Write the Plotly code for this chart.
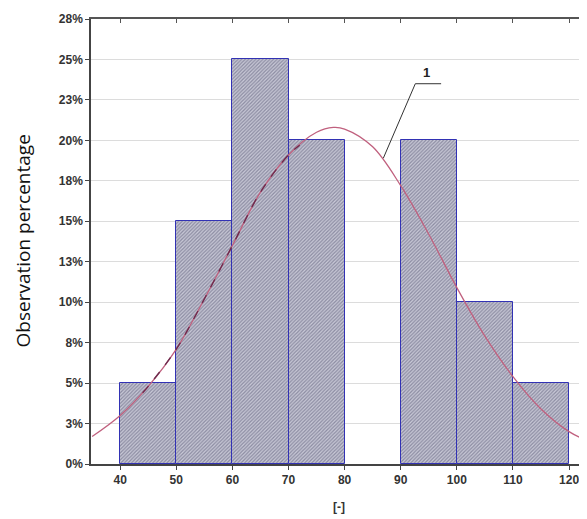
import plotly.graph_objects as go

# Histogram bins (left edges) and observation percentages
bin_left = [40, 50, 60, 70, 80, 90, 100, 110]
bin_width = 10
obs_pct = [5, 15, 25, 20, 0, 20, 10, 5]

# Fitted curve
curve_x = [35, 40, 45, 50, 55, 60, 65, 70, 75, 78, 80, 85, 90, 95, 100, 105, 110, 115, 120, 123.5]
curve_y = [1.7, 3.0, 4.8, 7.1, 10.2, 13.5, 16.8, 19.1, 20.5, 20.8, 20.7, 19.6, 17.2, 14.2, 10.9, 7.9, 5.4, 3.4, 2.0, 1.4]

# Dashed overlay section of the curve
dash_x = [44, 45, 50, 55, 60, 65, 70, 72]
dash_y = [4.4, 4.8, 7.1, 10.2, 13.5, 16.8, 19.1, 19.7]

y_tickvals = [0, 2.5, 5, 7.5, 10, 12.5, 15, 17.5, 20, 22.5, 25, 27.5]
y_ticktext = ["0%", "3%", "5%", "8%", "10%", "13%", "15%", "18%", "20%", "23%", "25%", "28%"]
x_tickvals = [40, 50, 60, 70, 80, 90, 100, 110, 120]

label_text = "1"
y_title = "Observation percentage"

bars = [(b + bin_width / 2, v) for b, v in zip(bin_left, obs_pct) if v > 0]

fig = go.Figure()
fig.add_trace(go.Bar(
    x=[c for c, _ in bars], y=[v for _, v in bars], width=bin_width,
    marker=dict(
        color="#c4c4d4",
        line=dict(color="#3232b4", width=1),
        pattern=dict(shape="/", fgcolor="#4e4e6c", bgcolor="#cacad8", size=2.5, solidity=0.5),
    ),
    showlegend=False, hoverinfo="skip",
))
fig.add_trace(go.Scatter(
    x=curve_x, y=curve_y, mode="lines", line=dict(color="#c0607e", width=1.3, shape="spline"),
    showlegend=False, hoverinfo="skip",
))
fig.add_trace(go.Scatter(
    x=dash_x, y=dash_y, mode="lines", line=dict(color="#6e2c4e", width=1.4, dash="dash", shape="spline"),
    showlegend=False, hoverinfo="skip",
))
# invisible trace for top axis
fig.add_trace(go.Scatter(x=[40], y=[0], xaxis="x2", mode="markers", marker=dict(opacity=0),
                         showlegend=False, hoverinfo="skip"))

# Label "1" with leader line
fig.add_shape(type="line", x0=86.9, y0=18.9, x1=92.6, y1=23.5, line=dict(color="#333333", width=1))
fig.add_shape(type="line", x0=92.6, y0=23.5, x1=97.2, y1=23.5, line=dict(color="#333333", width=1))
fig.add_annotation(x=94.6, y=23.6, text="<b>" + label_text + "</b>", showarrow=False, yanchor="bottom",
                   font=dict(family="Liberation Sans, Arial", size=13, color="#222222"))

# Y-axis title as annotation for exact placement
fig.add_annotation(xref="paper", yref="paper", x=0, y=0.5, xshift=-69, text=y_title, textangle=-90,
                   showarrow=False, xanchor="center", yanchor="middle",
                   font=dict(family="Open Sans, Liberation Sans", size=19, color="#111111"))

axis_font = dict(family="Liberation Sans, Arial", size=12, color="#333333")
fig.update_layout(
    width=587, height=519,
    margin=dict(l=83, r=8, t=11, b=63, autoexpand=False),
    paper_bgcolor="white", plot_bgcolor="white",
    bargap=0,
    xaxis=dict(
        range=[34.8, 123.2], tickvals=x_tickvals, ticktext=["<b>%d</b>" % v for v in x_tickvals],
        showgrid=False, zeroline=False, showline=True, linecolor="#444444", linewidth=1.5,
        ticks="outside", ticklen=4, tickcolor="#444444", tickfont=axis_font, automargin=False,
        title=dict(text="<b>[-]</b>", font=dict(family="Liberation Sans, Arial", size=12, color="#333333"), standoff=16),
    ),
    xaxis2=dict(
        range=[34.8, 123.2], overlaying="x", side="top", tickvals=x_tickvals, showticklabels=False,
        showgrid=False, zeroline=False, showline=True, linecolor="#555555", linewidth=1.5,
        ticks="inside", ticklen=4, tickcolor="#555555", automargin=False,
    ),
    yaxis=dict(
        range=[0, 27.5], tickvals=y_tickvals, ticktext=["<b>%s</b>" % t for t in y_ticktext],
        showgrid=True, gridcolor="#dcdcdc", gridwidth=1, zeroline=False,
        showline=True, linecolor="#444444", linewidth=1.5, automargin=False,
        ticks="outside", ticklen=4, tickcolor="#444444", tickfont=axis_font,
    ),
)

fig.write_html("out.html")
